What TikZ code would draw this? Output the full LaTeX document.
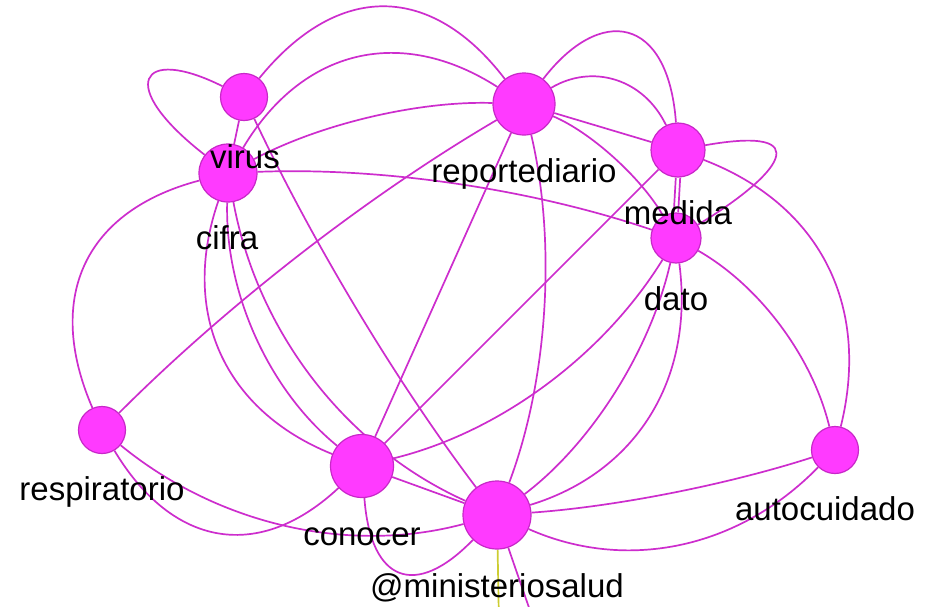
\documentclass[tikz,border=0pt]{standalone}
\usepackage{fontspec}
\newfontfamily\labelfont{Liberation Sans}
\usetikzlibrary{backgrounds,calc}
\definecolor{wordfill}{RGB}{255,58,255}
\definecolor{wordborder}{RGB}{200,40,200}
\definecolor{edgecolor}{RGB}{205,45,205}
\definecolor{rootedge}{RGB}{205,205,50}
\newcommand{\wordnode}[5]{
	\node [word, minimum size=#3] (#1) at (#2) {};
	\node [wordlabel] (#1label) at (#4) {#5};}
% curved edge, #2 is the quadratic control point
\newcommand{\wordedge}[3]{
	\draw [edge] (#1) .. controls ($(#1)!0.6667!(#2)$) and ($(#3)!0.6667!(#2)$) .. (#3);}

\begin{document}
\begin{tikzpicture}[x=1pt,y=-1pt,
	word/.style={draw=wordborder, fill=wordfill, circle, line width=1.2pt, inner sep=0pt},
	wordlabel/.style={anchor=base, inner sep=0pt, text=black, font=\labelfont\fontsize{33}{40}\selectfont},
	edge/.style={draw=edgecolor, line width=1.7pt}]
	\useasboundingbox (0,0) rectangle (935,606);
	% words (later ones lie on top)
	\wordnode{cifra}{228,173}{58pt}{227,249}{cifra}
	\wordnode{virus}{244,97}{47pt}{245,168}{virus}
	\wordnode{dato}{676,238}{50pt}{676,310}{dato}
	\wordnode{medida}{678,150}{54pt}{678,224}{medida}
	\wordnode{reporte}{524,104}{62pt}{524,182}{reportediario}
	\wordnode{resp}{102,430}{47pt}{102,500}{respiratorio}
	\wordnode{conocer}{362,466}{63pt}{362,545}{conocer}
	\wordnode{minsalud}{497,515}{68pt}{497,597}{@ministeriosalud}
	\wordnode{auto}{835,450}{47pt}{825,520}{autocuidado}
	\coordinate (out1) at (535,625);
	\coordinate (out2) at (499,625);

	\begin{scope}[on background layer]
	\fill [white] (0,0) rectangle (935,606);
	% virus
	\wordedge{virus}{385.5,-77}{reporte}
	\draw [edge] (virus) .. controls (140,45) and (115,85) .. (cifra);
	\draw [edge] (virus) -- (cifra);
	\wordedge{virus}{349,319.5}{minsalud}
	% cifra
	\wordedge{cifra}{340,-14}{reporte}
	\wordedge{cifra}{367,99}{reporte}
	\wordedge{cifra}{458,164}{dato}
	\wordedge{cifra}{15,229}{resp}
	\wordedge{cifra}{155.5,383}{conocer}
	\wordedge{cifra}{223,353}{conocer}
	\wordedge{cifra}{273,414.5}{minsalud}
	% reportediario
	\draw [edge] (reporte) .. controls (600,5) and (668,15) .. (medida);
	\wordedge{reporte}{626.5,43}{medida}
	\draw [edge] (reporte) -- (medida);
	\wordedge{reporte}{622.5,145.5}{dato}
	\wordedge{reporte}{292,240}{resp}
	\draw [edge] (reporte) -- (conocer);
	\wordedge{reporte}{573,313}{minsalud}
	% medida
	\draw [edge] ([xshift=-2.2pt]medida.south) -- ([xshift=-2.2pt]dato.north);
	\draw [edge] ([xshift=2.2pt]medida.south) -- ([xshift=2.2pt]dato.north);
	\draw [edge] (medida) .. controls (820,125) and (780,175) .. (dato);
	\draw [edge] (medida) -- (conocer);
	\wordedge{medida}{889,231}{auto}
	% dato
	\wordedge{dato}{565.5,416.5}{conocer}
	\wordedge{dato}{637,409}{minsalud}
	\wordedge{dato}{704,452}{minsalud}
	\wordedge{dato}{801,309.5}{auto}
	% lower words
	\wordedge{minsalud}{670.5,503}{auto}
	\wordedge{minsalud}{688.5,600}{auto}
	\draw [edge] (conocer) -- (minsalud);
	\wordedge{conocer}{375,641}{minsalud}
	\wordedge{resp}{209.5,608.5}{conocer}
	\wordedge{resp}{278,574}{minsalud}
	\draw [edge] (minsalud) -- (out1);
	\draw [edge, draw=rootedge] (minsalud) -- (out2);
	\end{scope}
\end{tikzpicture}
\end{document}
